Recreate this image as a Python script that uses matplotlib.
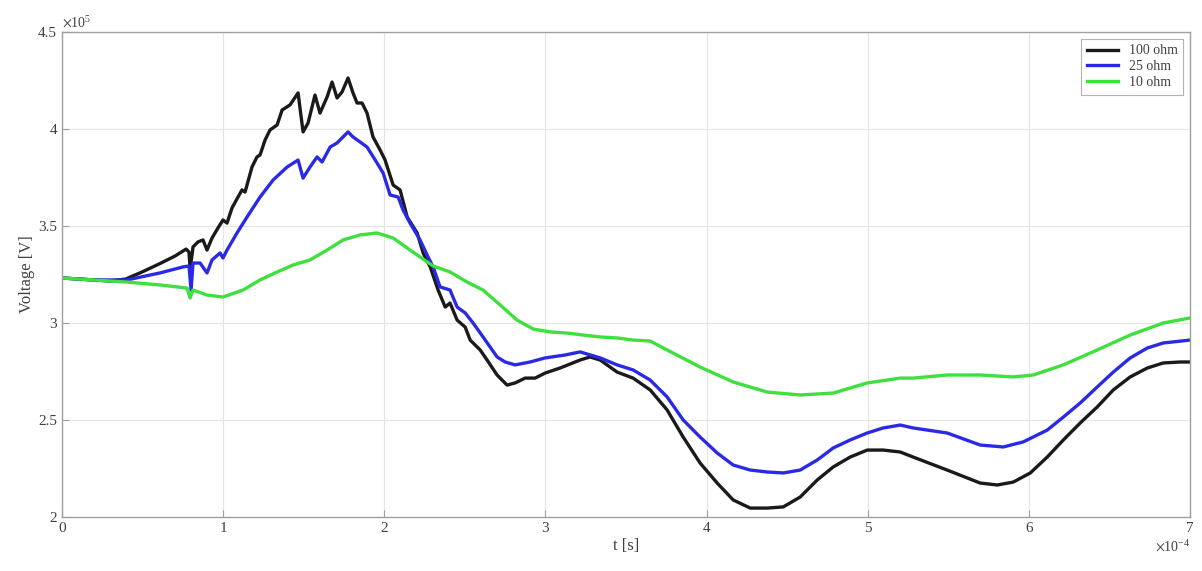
import numpy as np
import matplotlib
matplotlib.use("Agg")
import matplotlib.pyplot as plt
from matplotlib.ticker import ScalarFormatter

# time in units of 1e-4 s, voltage in units of 1e5 V
t_100 = [0, 0.199, 0.298, 0.397, 0.497, 0.602, 0.701, 0.770, 0.788, 0.795, 0.807, 0.813, 0.844, 0.875,
         0.900, 0.931, 0.968, 0.999, 1.024, 1.055, 1.092, 1.117, 1.136, 1.179, 1.210, 1.229, 1.260, 1.291,
         1.335, 1.366, 1.415, 1.465, 1.496, 1.527, 1.570, 1.601, 1.645, 1.676, 1.707, 1.738, 1.775, 1.806,
         1.831, 1.862, 1.893, 1.930, 1.974, 2.005, 2.055, 2.098, 2.142, 2.204, 2.241, 2.285, 2.334, 2.378,
         2.408, 2.452, 2.502, 2.533, 2.595, 2.638, 2.700, 2.762, 2.812, 2.874, 2.936, 2.998, 3.091, 3.215,
         3.277, 3.340, 3.445, 3.544, 3.650, 3.755, 3.855, 3.960, 4.066, 4.165, 4.271, 4.376, 4.476, 4.581,
         4.687, 4.786, 4.891, 4.997, 5.096, 5.202, 5.282, 5.493, 5.698, 5.804, 5.903, 6.009, 6.114, 6.214,
         6.319, 6.424, 6.524, 6.629, 6.735, 6.834, 6.940, 7.0]
v_100 = [3.232, 3.222, 3.216, 3.227, 3.263, 3.304, 3.345, 3.381, 3.366, 3.284, 3.351, 3.392, 3.418, 3.428,
         3.376, 3.438, 3.490, 3.531, 3.515, 3.593, 3.649, 3.686, 3.675, 3.804, 3.856, 3.866, 3.943, 3.995,
         4.021, 4.098, 4.124, 4.186, 3.985, 4.031, 4.175, 4.082, 4.165, 4.242, 4.160, 4.191, 4.263, 4.186,
         4.134, 4.134, 4.082, 3.959, 3.892, 3.840, 3.711, 3.686, 3.546, 3.464, 3.361, 3.289, 3.170, 3.082,
         3.103, 3.015, 2.979, 2.912, 2.861, 2.809, 2.732, 2.680, 2.691, 2.716, 2.716, 2.742, 2.768, 2.809,
         2.825, 2.809, 2.747, 2.716, 2.655, 2.552, 2.412, 2.278, 2.175, 2.088, 2.046, 2.046, 2.052, 2.103,
         2.191, 2.258, 2.309, 2.345, 2.345, 2.335, 2.309, 2.242, 2.175, 2.165, 2.180, 2.227, 2.309, 2.397,
         2.485, 2.567, 2.655, 2.722, 2.768, 2.794, 2.799, 2.799]

t_25 = [0, 0.192, 0.403, 0.608, 0.751, 0.788, 0.801, 0.813, 0.857, 0.900, 0.931, 0.981, 0.999, 1.024,
        1.086, 1.148, 1.229, 1.310, 1.397, 1.465, 1.496, 1.539, 1.583, 1.614, 1.664, 1.707, 1.744, 1.775,
        1.806, 1.850, 1.893, 1.955, 1.993, 2.036, 2.086, 2.117, 2.160, 2.222, 2.272, 2.303, 2.346, 2.408,
        2.452, 2.502, 2.551, 2.613, 2.700, 2.750, 2.812, 2.905, 2.998, 3.122, 3.215, 3.340, 3.445, 3.544,
        3.650, 3.755, 3.855, 3.960, 4.066, 4.165, 4.271, 4.376, 4.476, 4.581, 4.687, 4.786, 4.891, 4.997,
        5.096, 5.202, 5.282, 5.493, 5.698, 5.841, 5.965, 6.114, 6.214, 6.319, 6.424, 6.524, 6.629, 6.735,
        6.834, 7.0]
v_25 = [3.232, 3.222, 3.222, 3.258, 3.289, 3.294, 3.170, 3.309, 3.309, 3.258, 3.325, 3.361, 3.335, 3.376,
        3.464, 3.546, 3.649, 3.737, 3.804, 3.840, 3.747, 3.804, 3.856, 3.830, 3.907, 3.928, 3.959, 3.985,
        3.959, 3.933, 3.907, 3.825, 3.773, 3.660, 3.649, 3.582, 3.515, 3.428, 3.340, 3.289, 3.186, 3.170,
        3.082, 3.052, 3.000, 2.928, 2.825, 2.799, 2.784, 2.799, 2.820, 2.835, 2.851, 2.820, 2.784, 2.758,
        2.706, 2.619, 2.500, 2.412, 2.330, 2.268, 2.242, 2.232, 2.227, 2.242, 2.294, 2.356, 2.397, 2.433,
        2.459, 2.474, 2.459, 2.433, 2.371, 2.361, 2.387, 2.448, 2.515, 2.588, 2.670, 2.747, 2.820, 2.871,
        2.897, 2.912]

t_10 = [0, 0.403, 0.608, 0.776, 0.795, 0.813, 0.900, 0.999, 1.124, 1.229, 1.335, 1.434, 1.539, 1.645,
        1.744, 1.850, 1.955, 2.055, 2.160, 2.303, 2.408, 2.514, 2.613, 2.719, 2.824, 2.924, 3.029, 3.135,
        3.234, 3.340, 3.445, 3.544, 3.650, 3.755, 3.960, 4.165, 4.376, 4.581, 4.786, 4.997, 5.202, 5.282,
        5.493, 5.698, 5.903, 6.027, 6.214, 6.424, 6.629, 6.834, 7.0]
v_10 = [3.232, 3.211, 3.196, 3.180, 3.129, 3.170, 3.144, 3.134, 3.170, 3.222, 3.263, 3.299, 3.325, 3.376,
        3.428, 3.454, 3.464, 3.438, 3.376, 3.294, 3.263, 3.211, 3.170, 3.093, 3.015, 2.969, 2.954, 2.948,
        2.938, 2.928, 2.923, 2.912, 2.907, 2.861, 2.773, 2.696, 2.644, 2.629, 2.639, 2.691, 2.716, 2.716,
        2.732, 2.732, 2.722, 2.732, 2.784, 2.861, 2.938, 3.000, 3.026]

labels = ["100 ohm", "25 ohm", "10 ohm"]
colors = ["#1a1a1a", "#2a2ae6", "#3ee03e"]

plt.rcParams['font.family'] = ['Liberation Serif', 'DejaVu Serif']
plt.rcParams['mathtext.fontset'] = 'stix'


class CompactFormatter(ScalarFormatter):
    def _set_format(self):
        super()._set_format()
        self.format = '%g'


fig = plt.figure(figsize=(12.02, 5.71), dpi=100)
ax = fig.add_axes([62/1202, 1-517/571, (1190-62)/1202, (517-32)/571])

for t, v, lab, c in zip([t_100, t_25, t_10], [v_100, v_25, v_10], labels, colors):
    ax.plot(np.array(t) * 1e-4, np.array(v) * 1e5, color=c, lw=2.4, label=lab)

ax.set_xlim(0, 7e-4)
ax.set_ylim(2e5, 4.5e5)
ax.set_xticks(np.arange(0, 8) * 1e-4)
ax.set_yticks(np.arange(2, 4.51, 0.5) * 1e5)
for axis in (ax.xaxis, ax.yaxis):
    f = CompactFormatter(useMathText=True)
    f.set_powerlimits((-1, 1))
    axis.set_major_formatter(f)

ax.grid(True, color='#e4e4e4', lw=0.8)
ax.set_axisbelow(True)
for s in ax.spines.values():
    s.set_color('#a0a0a0')
    s.set_linewidth(1.0)
ax.tick_params(direction='in', colors='#a0a0a0', labelcolor='#404040', labelsize=11, length=5)
ax.xaxis.get_offset_text().set_color('#404040')
ax.yaxis.get_offset_text().set_color('#404040')
ax.xaxis.get_offset_text().set_fontsize(10)
ax.yaxis.get_offset_text().set_fontsize(10)

ax.set_xlabel("t [s]", fontsize=12, color='#404040', labelpad=2)
ax.set_ylabel("Voltage [V]", fontsize=12, color='#404040', labelpad=2)

leg = ax.legend(loc='upper right', fontsize=10, frameon=True, fancybox=False,
                edgecolor='#a0a0a0', handlelength=2.2, borderaxespad=0.5, labelspacing=0.2)
leg.get_frame().set_linewidth(0.8)
for txt in leg.get_texts():
    txt.set_color('#404040')

fig.savefig("out.png", dpi=100)
